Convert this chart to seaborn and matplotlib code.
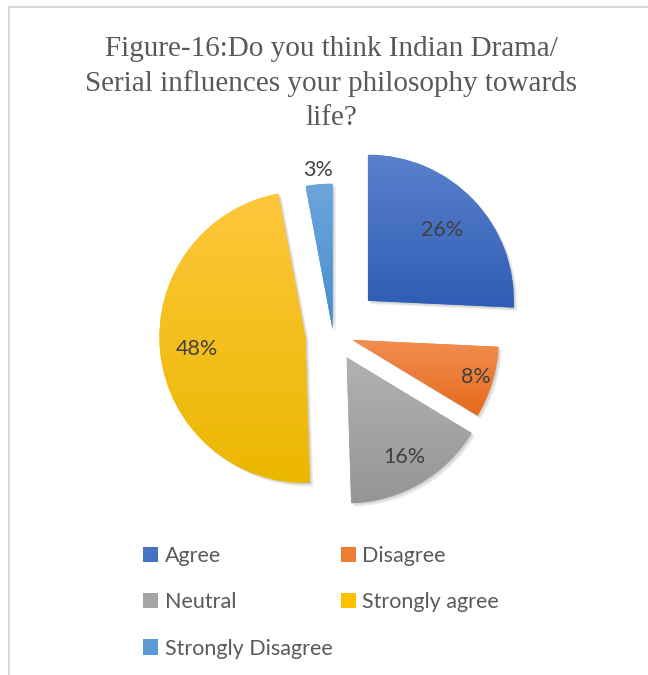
import numpy as np
import matplotlib
matplotlib.use("Agg")
import matplotlib.pyplot as plt
import seaborn as sns
from matplotlib.colors import LinearSegmentedColormap
from matplotlib.lines import Line2D
from matplotlib.patches import Wedge

# Survey responses (percent of respondents)
categories = ["Agree", "Disagree", "Neutral", "Strongly agree", "Strongly Disagree"]
shares = [26, 8, 16, 48, 3]

title = "Figure-16:Do you think Indian Drama/\nSerial influences your philosophy towards\nlife?"

# Slice styling
base_colors = ["#4472C4", "#ED7D31", "#A5A5A5", "#FFC000", "#5B9BD5"]
top_colors = ["#5a80cc", "#f28d50", "#b2b2b2", "#ffc73c", "#6ca6dc"]
bottom_colors = ["#2f5db5", "#e66a1c", "#959595", "#ebb700", "#458dce"]
explode = [0.33, 0.14, 0.185, 0.19, 0.03]
label_dist = [0.70, 0.88, 0.79, 0.75, 1.10]

sns.set_theme(style="white")
plt.rcParams["font.family"] = ["Lato", "DejaVu Sans"]
palette = sns.color_palette(base_colors)

W, H = 648, 675
fig = plt.figure(figsize=(W / 100, H / 100), dpi=100)
fig.patch.set_facecolor("white")

# Axes: pie centre at (333, 334) px, radius 146 px
R_PX = 146
half = 1.5
cx, cy = 333, 334
size = 2 * half * R_PX
ax = fig.add_axes([(cx - size / 2) / W, (H - cy - size / 2) / H, size / W, size / H])

wedges, _ = ax.pie(
    shares,
    explode=explode,
    colors=palette,
    startangle=90,
    counterclock=False,
    radius=1.0,
    wedgeprops=dict(linewidth=0),
)

# Soft drop shadow and vertical gradient fill for each slice
for w, ctop, cbot in zip(wedges, top_colors, bottom_colors):
    for k in range(4):
        off = 0.006 * (k + 1)
        sh = Wedge((w.center[0] + off, w.center[1] - off), w.r, w.theta1, w.theta2,
                   facecolor="black", edgecolor="none", alpha=0.05, zorder=0.5)
        ax.add_patch(sh)
    w.set_zorder(1)
    ext = w.get_path().get_extents()
    cmap = LinearSegmentedColormap.from_list("g", [cbot, ctop])
    grad = np.linspace(0, 1, 256).reshape(-1, 1)
    im = ax.imshow(grad, cmap=cmap, origin="lower", aspect="auto",
                   extent=(ext.x0, ext.x1, ext.y0, ext.y1), zorder=1.5,
                   interpolation="bilinear")
    im.set_clip_path(w)

# Percentage labels
for w, val, d in zip(wedges, shares, label_dist):
    mid = np.deg2rad((w.theta1 + w.theta2) / 2)
    x = w.center[0] + d * np.cos(mid)
    y = w.center[1] + d * np.sin(mid)
    ax.text(x, y, f"{val}%", ha="center", va="center", fontsize=15.5,
            color="#404040", zorder=3)

ax.set_xlim(-half, half)
ax.set_ylim(-half, half)
ax.set_aspect("equal")
ax.axis("off")

# Title
fig.text(331 / W, 1 - 36 / H, title, ha="center", va="top",
         family=["Liberation Serif", "DejaVu Serif"], fontsize=21,
         color="#595959", linespacing=1.38)

# Legend in row-major order across two columns
order = [0, 2, 4, 1, 3]
leg = fig.legend([wedges[i] for i in order], [categories[i] for i in order],
                 loc="upper left", bbox_to_anchor=(143 / W, 1 - 546 / H),
                 ncol=2, frameon=False, fontsize=15.5, labelcolor="#595959",
                 handlelength=0.7, handleheight=0.7, handletextpad=0.3,
                 columnspacing=0.4, labelspacing=1.22, borderaxespad=0,
                 borderpad=0)

# Chart-area border (top and left edges)
fig.add_artist(Line2D([9 / W, 1], [1 - 7 / H, 1 - 7 / H], color="#d9d9d9", lw=1.5))
fig.add_artist(Line2D([9 / W, 9 / W], [0, 1 - 7 / H], color="#d9d9d9", lw=1.5))

fig.savefig("out.png", dpi=100, facecolor="white")
